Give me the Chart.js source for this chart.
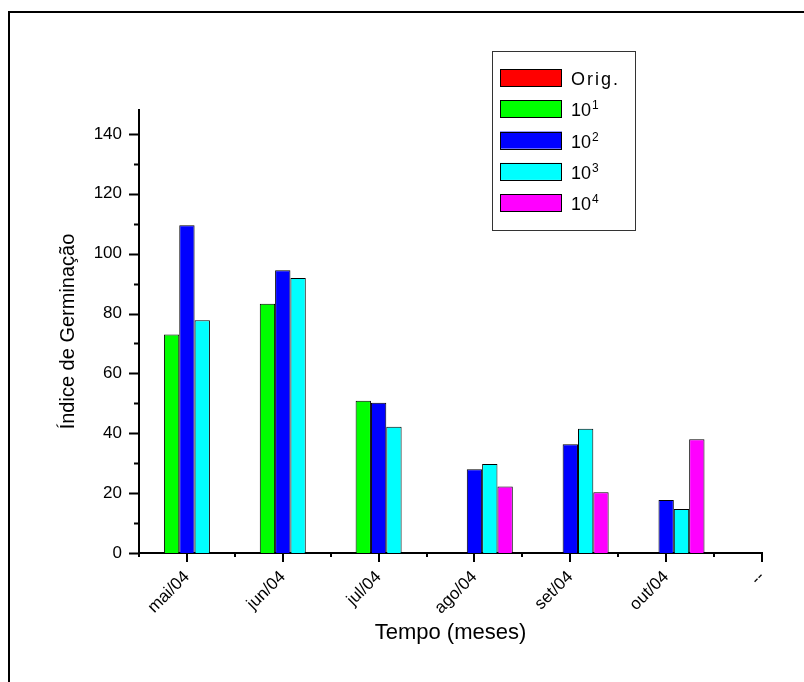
<!DOCTYPE html>
<html>
<head>
<meta charset="utf-8">
<script src="https://cdn.jsdelivr.net/npm/chart.js@4.4.0/dist/chart.umd.min.js"></script>
<style>
  html, body { margin: 0; padding: 0; background: #fff; }
  #wrap { position: relative; width: 804px; height: 682px; overflow: hidden; }
  #frame { position: absolute; left: 8px; top: 11px; width: 900px; height: 900px;
           border-left: 2px solid #000; border-top: 2px solid #000; }
  canvas { position: absolute; left: 0; top: 0; }
</style>
</head>
<body>
<div id="wrap">
  <div id="frame"></div>
  <canvas id="germChart" width="804" height="682"></canvas>
</div>
<script>
// dados
const categories = ['mai/04', 'jun/04', 'jul/04', 'ago/04', 'set/04', 'out/04', '--'];
const seriesNames = ['Orig.', '10^1', '10^2', '10^3', '10^4'];
const orig = [null, null, null, null, null, null, null];
const dil1 = [73.0, 83.3, 50.9, null, null, null, null];
const dil2 = [109.5, 94.5, 50.2, 28.0, 36.3, 17.7, null];
const dil3 = [77.8, 91.9, 42.2, 29.7, 41.5, 14.7, null];
const dil4 = [null, null, null, 22.2, 20.3, 38.0, null];
const yTicks = [0, 20, 40, 60, 80, 100, 120, 140];
const colors = ['#ff0000', '#00ff00', '#0000ff', '#00ffff', '#ff00ff'];

Chart.defaults.font.family = "'Liberation Sans', Arial, sans-serif";
Chart.defaults.color = '#000';

const allSeries = [orig, dil1, dil2, dil3, dil4];
const datasets = allSeries.map((vals, k) => ({
  label: seriesNames[k],
  data: categories.map((c, i) => ({ x: i, y: vals[i] })),
  backgroundColor: colors[k],
  borderColor: '#000',
  borderWidth: 1,
  barPercentage: 1.0,
  categoryPercentage: 0.8
}));

// ticks maiores e menores nos eixos
const axisTicks = {
  id: 'axisTicks',
  afterDraw(chart) {
    const ctx = chart.ctx;
    const xs = chart.scales.x, ys = chart.scales.y;
    ctx.save();
    ctx.strokeStyle = '#000';
    ctx.lineWidth = 2;
    ctx.beginPath();
    for (let v = 0; v <= yTicks[yTicks.length - 1]; v += 10) {
      const py = Math.round(ys.getPixelForValue(v)) + 0.5;
      const len = yTicks.includes(v) ? 10 : 5;
      ctx.moveTo(xs.left - len, py);
      ctx.lineTo(xs.left, py);
    }
    for (let v = -0.5; v <= categories.length - 1; v += 0.5) {
      const px = Math.round(xs.getPixelForValue(v));
      const len = Number.isInteger(v) ? 9 : 4;
      ctx.moveTo(px, ys.bottom);
      ctx.lineTo(px, ys.bottom + len);
    }
    ctx.stroke();
    ctx.restore();
  }
};

// legenda com expoentes
const boxLegend = {
  id: 'boxLegend',
  afterDraw(chart) {
    const ctx = chart.ctx;
    ctx.save();
    ctx.strokeStyle = '#333';
    ctx.lineWidth = 1;
    ctx.strokeRect(492.5, 51.5, 143, 179);
    chart.data.datasets.forEach((ds, i) => {
      const top = 69 + i * 31.3;
      ctx.fillStyle = ds.backgroundColor;
      ctx.fillRect(500, top, 62, 17);
      ctx.strokeStyle = '#000';
      ctx.strokeRect(500.5, Math.round(top) + 0.5, 61, 17);
      const base = top + 16;
      const parts = ds.label.split('^');
      ctx.fillStyle = '#000';
      ctx.textBaseline = 'alphabetic';
      ctx.textAlign = 'left';
      ctx.font = "18px 'Liberation Sans', Arial, sans-serif";
      ctx.letterSpacing = parts[1] ? '0px' : '2px';
      ctx.fillText(parts[0], 571, base);
      ctx.letterSpacing = '0px';
      if (parts[1]) {
        const w = ctx.measureText(parts[0]).width;
        ctx.font = "12px 'Liberation Sans', Arial, sans-serif";
        ctx.fillText(parts[1], 571 + w + 1, base - 7);
      }
    });
    ctx.restore();
  }
};

new Chart(document.getElementById('germChart').getContext('2d'), {
  type: 'bar',
  data: { datasets: datasets },
  plugins: [axisTicks, boxLegend],
  options: {
    responsive: false,
    animation: false,
    layout: { padding: { left: 56, top: 110, right: 42, bottom: 36 } },
    plugins: {
      legend: { display: false },
      tooltip: { enabled: false }
    },
    scales: {
      x: {
        type: 'linear',
        min: -0.5,
        max: categories.length - 1,
        offset: false,
        grid: { display: false, drawTicks: false, offset: false },
        border: { display: true, color: '#000', width: 2 },
        ticks: {
          stepSize: 1,
          includeBounds: false,
          autoSkip: false,
          minRotation: 45,
          maxRotation: 45,
          padding: 14,
          font: { size: 17 },
          callback: v => Number.isInteger(v) ? categories[v] : ''
        },
        title: { display: true, text: 'Tempo (meses)', font: { size: 22 }, padding: { top: 0, bottom: 0 } },
        afterFit: s => { s.height = 93; }
      },
      y: {
        min: 0,
        max: 148,
        grid: { display: false, drawTicks: false },
        border: { display: true, color: '#000', width: 2 },
        ticks: {
          stepSize: 20,
          includeBounds: false,
          padding: 17,
          font: { size: 17 },
          callback: v => yTicks.includes(v) ? v : ''
        },
        title: { display: true, text: 'Índice de Germinação', font: { size: 20 }, padding: { top: 0, bottom: 0 } },
        afterFit: s => { s.width = 83; }
      }
    }
  }
});
</script>
</body>
</html>
